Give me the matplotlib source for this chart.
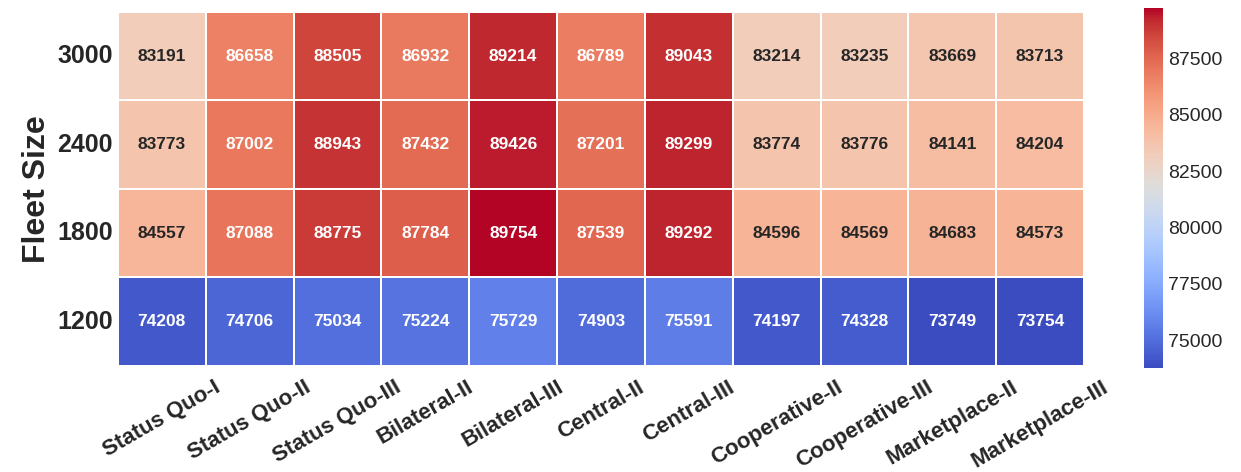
import matplotlib
matplotlib.use("Agg")
import matplotlib.pyplot as plt
from matplotlib.ticker import MultipleLocator
import pandas as pd
import seaborn as sns

sns.set_style("white")
plt.rcParams['font.family'] = ['Liberation Sans', 'DejaVu Sans']

strategies = ["Status Quo-I", "Status Quo-II", "Status Quo-III", "Bilateral-II",
              "Bilateral-III", "Central-II", "Central-III", "Cooperative-II",
              "Cooperative-III", "Marketplace-II", "Marketplace-III"]
fleet_sizes = [3000, 2400, 1800, 1200]

row_3000 = [83191, 86658, 88505, 86932, 89214, 86789, 89043, 83214, 83235, 83669, 83713]
row_2400 = [83773, 87002, 88943, 87432, 89426, 87201, 89299, 83774, 83776, 84141, 84204]
row_1800 = [84557, 87088, 88775, 87784, 89754, 87539, 89292, 84596, 84569, 84683, 84573]
row_1200 = [74208, 74706, 75034, 75224, 75729, 74903, 75591, 74197, 74328, 73749, 73754]

df = pd.DataFrame([row_3000, row_2400, row_1800, row_1200],
                  index=fleet_sizes, columns=strategies)

fig = plt.figure(figsize=(12.41, 4.72), dpi=100)
ax = fig.add_axes([0.095, 0.225, 0.7785, 0.75])
cax = fig.add_axes([0.9218, 0.22, 0.0153, 0.763])

sns.heatmap(df, ax=ax, cbar_ax=cax, cmap="coolwarm", annot=True, fmt="d",
            linewidths=1.2, linecolor="white",
            annot_kws={"fontsize": 12.5, "fontweight": "bold"})

ax.set_ylabel("Fleet Size", fontsize=23, fontweight="bold")
ax.set_xlabel("")
plt.setp(ax.get_xticklabels(), rotation=30, fontsize=16, fontweight="bold", color="#262626")
plt.setp(ax.get_yticklabels(), rotation=0, fontsize=18, fontweight="bold", color="#262626")
ax.tick_params(length=0)
ax.tick_params(axis="x", pad=8)
cax.yaxis.set_major_locator(MultipleLocator(2500))
cax.tick_params(labelsize=14, length=0, labelcolor="#262626")

fig.savefig("out.png", dpi=100)
